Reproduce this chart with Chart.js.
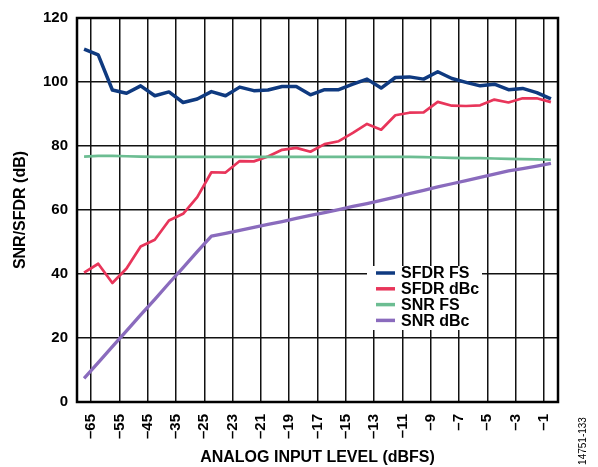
<!DOCTYPE html>
<html>
<head>
<meta charset="utf-8">
<script src="https://cdn.jsdelivr.net/npm/chart.js@4/dist/chart.umd.min.js"></script>
<style>
  html, body { margin: 0; padding: 0; background: #fff; }
  canvas { display: block; }
</style>
</head>
<body>
<canvas id="chart" width="598" height="467"></canvas>
<script>
// tick labels along the x axis (dBFS)
const tickLabels = ['–65', '–55', '–45', '–35', '–25', '–23', '–21', '–19', '–17',
  '–15', '–13', '–11', '–9', '–7', '–5', '–3', '–1'];

// measured points, two per labelled step
const sfdrFs = [110.3, 108.5, 97.5, 96.5, 98.8, 95.7, 96.9, 93.6, 94.7, 97.0, 95.7, 98.4,
  97.3, 97.5, 98.6, 98.6, 96.0, 97.6, 97.6, 99.3, 100.9, 98.1, 101.4, 101.6,
  100.9, 103.2, 101.1, 99.9, 98.8, 99.3, 97.6, 98.0, 96.7, 94.7];
const sfdrDbc = [40.4, 43.2, 37.2, 41.7, 48.6, 50.7, 56.7, 58.8, 64.0, 71.8, 71.7, 75.3,
  75.2, 76.7, 78.8, 79.4, 78.2, 80.6, 81.5, 84.1, 86.9, 85.1, 89.6, 90.4,
  90.5, 93.8, 92.6, 92.5, 92.7, 94.5, 93.6, 94.9, 94.9, 93.7];
const snrFs = [76.7, 76.9, 76.9, 76.8, 76.7, 76.6, 76.6, 76.6, 76.6, 76.6, 76.6, 76.6,
  76.6, 76.6, 76.6, 76.6, 76.6, 76.6, 76.6, 76.6, 76.6, 76.6, 76.6, 76.6,
  76.5, 76.4, 76.3, 76.2, 76.2, 76.1, 76.0, 75.9, 75.8, 75.7];
const snrDbc = [7.4, 12.3, 17.3, 22.2, 27.2, 32.1, 37.1, 42.0, 47.0, 51.8, 52.7, 53.6,
  54.6, 55.5, 56.4, 57.4, 58.3, 59.2, 60.1, 61.1, 62.0, 63.0, 64.0, 65.1,
  66.1, 67.2, 68.2, 69.2, 70.2, 71.2, 72.2, 72.9, 73.7, 74.6];

const toPoints = arr => arr.map((v, i) => ({ x: i + 0.5, y: v }));

const boldFont = size => ({ family: '"Liberation Sans", Arial, sans-serif', size: size, weight: 'bold' });

const chartDecor = {
  id: 'chartDecor',
  afterDraw(chart) {
    const ctx = chart.ctx;
    const a = chart.chartArea;
    ctx.save();
    // frame around the plot
    ctx.strokeStyle = '#000';
    ctx.lineWidth = 2.5;
    ctx.strokeRect(a.left, a.top, a.right - a.left, a.bottom - a.top);

    // legend box inside the plot
    const bx = 367, by = 266, bw = 115, bh = 64;
    ctx.fillStyle = '#fff';
    ctx.fillRect(bx, by, bw, bh);
    ctx.font = 'bold 16px "Liberation Sans", Arial, sans-serif';
    ctx.textBaseline = 'middle';
    chart.data.datasets.forEach((ds, i) => {
      const y = 273 + i * 15.8;
      ctx.strokeStyle = ds.borderColor;
      ctx.lineWidth = 3.5;
      ctx.beginPath();
      ctx.moveTo(376, y);
      ctx.lineTo(395, y);
      ctx.stroke();
      ctx.fillStyle = '#000';
      ctx.fillText(ds.label, 401, y + 1);
    });

    // figure number on the right
    ctx.translate(583, 441);
    ctx.rotate(-Math.PI / 2);
    ctx.font = '10px "Liberation Sans", Arial, sans-serif';
    ctx.textAlign = 'center';
    ctx.fillStyle = '#000';
    ctx.fillText('14751-133', 0, 0);
    ctx.restore();
  }
};

new Chart(document.getElementById('chart'), {
  type: 'line',
  data: {
    datasets: [{
      label: 'SFDR FS',
      data: toPoints(sfdrFs),
      borderColor: '#0f3a80',
      borderWidth: 3.5,
      order: 4
    }, {
      label: 'SFDR dBc',
      data: toPoints(sfdrDbc),
      borderColor: '#e8355a',
      borderWidth: 2.7,
      order: 3
    }, {
      label: 'SNR FS',
      data: toPoints(snrFs),
      borderColor: '#6cbd92',
      borderWidth: 2.7,
      order: 2
    }, {
      label: 'SNR dBc',
      data: toPoints(snrDbc),
      borderColor: '#8a6bbd',
      borderWidth: 3.3,
      order: 1
    }]
  },
  options: {
    responsive: false,
    animation: false,
    layout: { padding: { top: 17, right: 40, left: 0, bottom: 0 } },
    elements: {
      point: { radius: 0 },
      line: { tension: 0, borderJoinStyle: 'round', borderCapStyle: 'butt' }
    },
    plugins: {
      legend: { display: false },
      tooltip: { enabled: false }
    },
    scales: {
      x: {
        type: 'linear',
        min: 0,
        max: 34,
        afterBuildTicks: scale => {
          scale.ticks = tickLabels.map((_, k) => ({ value: 2 * k + 1 }));
        },
        afterFit: scale => { scale.height = 65; },
        border: { display: false },
        grid: { color: '#111', lineWidth: 1.5, drawTicks: false },
        ticks: {
          autoSkip: false,
          maxRotation: 90,
          minRotation: 90,
          padding: 12,
          color: '#000',
          font: boldFont(15),
          callback: (value, index) => tickLabels[index]
        },
        title: {
          display: true,
          text: 'ANALOG INPUT LEVEL (dBFS)',
          color: '#000',
          font: boldFont(16),
          padding: { top: 0, bottom: 0 }
        }
      },
      y: {
        min: 0,
        max: 120,
        afterFit: scale => { scale.width = 77; },
        border: { display: false },
        grid: { color: '#111', lineWidth: 1.5, drawTicks: false },
        ticks: {
          stepSize: 20,
          padding: 9,
          color: '#000',
          font: boldFont(15)
        },
        title: {
          display: true,
          text: 'SNR/SFDR (dB)',
          color: '#000',
          font: boldFont(16),
          padding: { top: 11, bottom: 0 }
        }
      }
    }
  },
  plugins: [chartDecor]
});
</script>
</body>
</html>
